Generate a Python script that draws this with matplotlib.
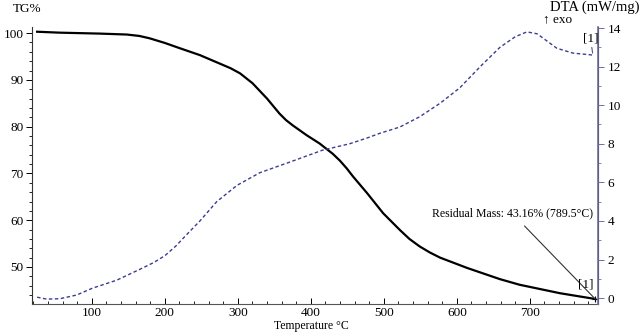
import numpy as np
import matplotlib.pyplot as plt
from matplotlib.ticker import MultipleLocator

plt.rcParams['font.family'] = ['Liberation Serif', 'DejaVu Serif']

# TG curve (mass %, left axis)
tg_temp = [25, 56, 111, 148, 165, 179, 200, 220, 248, 275, 290, 303, 320, 340, 357,
           366, 375, 394, 412, 430, 440, 449, 458, 477, 499, 522, 535, 549, 563, 577,
           614, 659, 686, 741, 789.5]
tg_mass = [100.3, 100.1, 99.9, 99.7, 99.4, 98.9, 97.9, 96.8, 95.3, 93.5, 92.5, 91.4,
           89.3, 86.0, 82.8, 81.4, 80.3, 78.2, 76.4, 74.2, 72.7, 71.1, 69.3, 65.8,
           61.5, 57.9, 56.0, 54.4, 53.1, 52.0, 49.8, 47.4, 46.2, 44.4, 43.16]

# DTA curve (mW/mg, right axis)
dta_temp = [25, 38, 56, 79, 101, 134, 166, 185, 200, 215, 230, 248, 271, 299, 330,
            371, 416, 453, 477, 495, 522, 549, 577, 604, 632, 659, 680, 696, 710, 737,
            759, 786]
dta_val = [0.05, -0.05, -0.03, 0.16, 0.52, 0.93, 1.5, 1.85, 2.2, 2.7, 3.3, 4.0, 5.0,
           5.85, 6.5, 7.05, 7.67, 8.0, 8.3, 8.55, 8.87, 9.4, 10.1, 10.9, 12.0, 13.0,
           13.55, 13.8, 13.7, 12.95, 12.7, 12.6]

residual_T = 789.5
residual_mass = 43.16

fig = plt.figure(figsize=(6.4, 3.34), dpi=100)
ax = fig.add_axes([0.05, 0.09, 0.884, 0.829])
ax2 = ax.twinx()

ax.plot(tg_temp, tg_mass, color='black', lw=1.6)
ax2.plot(dta_temp, dta_val, color='#3c3c90', lw=1.0, dashes=(2.5, 1.8))

ax.set_xlim(18, 793)
ax.set_ylim(42.1, 101.3)
ax2.set_ylim(-0.3, 14.05)

ax.xaxis.set_major_locator(MultipleLocator(100))
ax.xaxis.set_minor_locator(MultipleLocator(20))
ax.yaxis.set_major_locator(MultipleLocator(10))
ax.yaxis.set_minor_locator(MultipleLocator(2))
ax2.yaxis.set_major_locator(MultipleLocator(2))
ax2.yaxis.set_minor_locator(MultipleLocator(1))

ax.tick_params(axis='x', direction='in', length=4, width=0.7, labelsize=9.5, pad=2)
ax.tick_params(axis='x', which='minor', direction='in', length=2.5, width=0.6)
ax.tick_params(axis='y', direction='out', length=4, width=0.7, labelsize=9.5, pad=2)
ax.tick_params(axis='y', which='minor', direction='out', length=2, width=0.6)
ax2.tick_params(axis='y', direction='out', length=4, width=0.7, labelsize=9.5,
                pad=3, color='#7070a0')
ax2.tick_params(axis='y', which='minor', direction='out', length=2, width=0.6,
                color='#7070a0')

for a in (ax, ax2):
    a.spines['top'].set_visible(False)
ax.spines['left'].set_color('#333333')
ax.spines['bottom'].set_color('#555555')
ax2.spines['right'].set_color('#7070a0')
ax2.spines['right'].set_linewidth(1.2)
ax2.spines['left'].set_visible(False)
ax2.spines['bottom'].set_visible(False)

fig.text(311 / 640, 1 - 326 / 334, 'Temperature °C', fontsize=8.5, va='center', ha='center')
fig.text(13 / 640, 1 - 9 / 334, 'TG%', fontsize=9.5, va='center', ha='left')
fig.text(639 / 640, 1 - 7 / 334, 'DTA (mW/mg)', fontsize=10.5, va='center', ha='right')
fig.text(543 / 640, 1 - 19 / 334, '↑ exo', fontsize=9.5, va='center', ha='left')

ax.annotate('Residual Mass: %.2f%% (%.1f°C)' % (residual_mass, residual_T),
            xy=(residual_T, residual_mass), xytext=(786, 61.5),
            ha='right', va='center', fontsize=8.5,
            arrowprops=dict(arrowstyle='-', lw=0.8, color='#333333',
                            shrinkA=4, shrinkB=0))
ax.plot([residual_T], [residual_mass], marker='+', color='black', ms=5, mew=0.8)
ax.text(777, 46.3, '[1]', fontsize=9.5, ha='center', va='center')

ax2.annotate('[1]', xy=(dta_temp[-1], dta_val[-1] + 0.1), xytext=(783, 13.45),
             ha='center', va='center', fontsize=9.5,
             arrowprops=dict(arrowstyle='-', lw=0.8, color='#555588',
                             shrinkA=5, shrinkB=0))

fig.savefig('out.png', dpi=100)
